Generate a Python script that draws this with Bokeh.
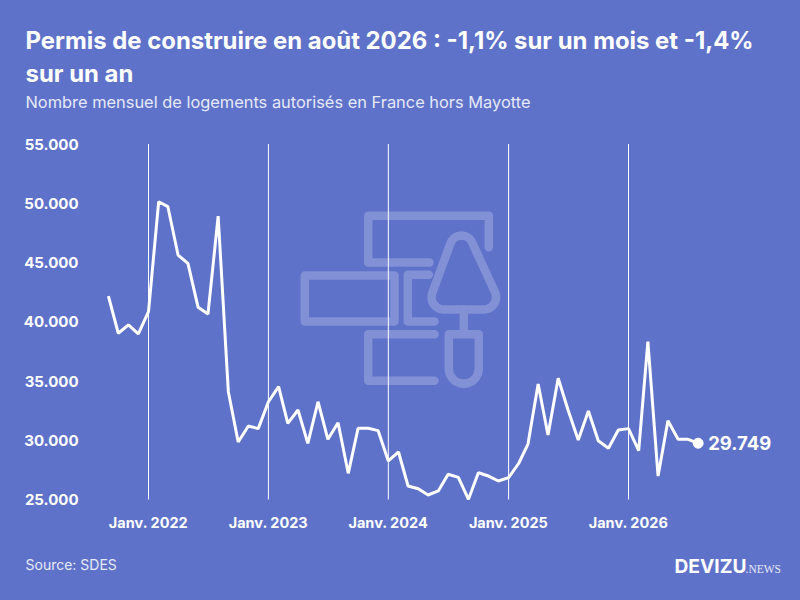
import math
import pandas as pd
from bokeh.embed import file_html
from bokeh.models import ColumnDataSource, FixedTicker, Label, Range1d
from bokeh.plotting import figure
from bokeh.resources import INLINE

months = pd.date_range("2021-09-01", "2026-08-01", freq="MS")
permits = [
    42170, 39030, 39730, 38970,
    40850, 50130, 49710, 45630, 44930, 41220, 40650, 48920, 34100, 29850, 31200, 30980,
    33250, 34520, 31430, 32550, 29740, 33250, 30080, 31480, 27210, 31010, 31010, 30810,
    28250, 29010, 26140, 25910, 25380, 25720, 27130, 26870, 25020, 27260, 26980, 26560,
    26840, 28060, 29680, 34750, 30440, 35230, 32550, 30020, 32470, 29960, 29320, 30870,
    30980, 29120, 38320, 26980, 31650, 30080, 30080, 29749,
]
y_ticks = [25000, 30000, 35000, 40000, 45000, 50000, 55000]
y_tick_labels = ["25.000", "30.000", "35.000", "40.000", "45.000", "50.000", "55.000"]
x_ticks = ["2022-01-01", "2023-01-01", "2024-01-01", "2025-01-01", "2026-01-01"]
x_tick_labels = ["Janv. 2022", "Janv. 2023", "Janv. 2024", "Janv. 2025", "Janv. 2026"]

TITLE_1 = "Permis de construire en août 2026 : -1,1% sur un mois et -1,4%"
TITLE_2 = "sur un an"
SUBTITLE = "Nombre mensuel de logements autorisés en France hors Mayotte"
SOURCE = "Source: SDES"

BG = "#5f72c9"
ICON = "#8290d5"
FONT = "Inter"
W, H = 800, 600

# axis calibration: reference pixels <-> data
t0, t1 = pd.Timestamp(x_ticks[0]), pd.Timestamp(x_ticks[-1])
PX0, PX1 = 148.0, 628.0
PY_25K, PY_55K = 499.0, 143.5
def px_to_time(px):
    return t0 + (px - PX0) / (PX1 - PX0) * (t1 - t0)
def py_to_value(py):
    return 25000 + (PY_25K - py) / (PY_25K - PY_55K) * 30000

p = figure(
    width=W, height=H, output_backend="svg", toolbar_location=None,
    x_axis_type="datetime",
    x_range=Range1d(px_to_time(0), px_to_time(W)),
    y_range=Range1d(py_to_value(H), py_to_value(0)),
    min_border=0, background_fill_color=BG, border_fill_color=BG, outline_line_color=None,
)
p.grid.visible = False
p.extra_x_ranges["px"] = Range1d(0, W)
p.extra_y_ranges["px"] = Range1d(H, 0)

x_tick_dates = [pd.Timestamp(d) for d in x_ticks]
x_tick_ms = [d.timestamp() * 1000 for d in x_tick_dates]
p.xaxis.fixed_location = py_to_value(500)
p.xaxis.ticker = FixedTicker(ticks=x_tick_ms)
p.xaxis.major_label_overrides = dict(zip(x_tick_ms, x_tick_labels))
p.yaxis.fixed_location = px_to_time(86).timestamp() * 1000
p.yaxis.ticker = FixedTicker(ticks=y_ticks)
p.yaxis.major_label_overrides = dict(zip(y_ticks, y_tick_labels))
for ax, size, standoff in ((p.xaxis, "14.5px", 7), (p.yaxis, "15px", 2)):
    ax.axis_line_color = None
    ax.major_tick_line_color = None
    ax.minor_tick_line_color = None
    ax.major_label_text_color = "white"
    ax.major_label_text_font = FONT
    ax.major_label_text_font_style = "bold"
    ax.major_label_text_font_size = size
    ax.major_label_standoff = standoff

# watermark icon, in reference pixels
def arc(cx, cy, r, a0, a1, n=10):
    return [(cx + r * math.cos(math.radians(a0 + (a1 - a0) * i / n)),
             cy + r * math.sin(math.radians(a0 + (a1 - a0) * i / n))) for i in range(n + 1)]

trowel = (arc(461, 246.7, 11.7, -160.5, -19.5) + arc(483.3, 296.7, 12.3, -19.5, 90)
          + arc(443.3, 296.7, 12.3, 90, 199.5))
trowel.append(trowel[0])
handle = [(448.3, 333.7), (478.3, 333.7)] + arc(463.3, 368.3, 15, 0, 180) + [(448.3, 333.7)]
icon_paths = [
    [(488.3, 246.7), (488.3, 215.3), (367.7, 215.3), (367.7, 262), (429, 262)],
    [(304.3, 275), (394, 275), (394, 321), (304.3, 321), (304.3, 275)],
    [(428.3, 274.3), (407.3, 274.3), (407.3, 321), (434, 321)],
    [(434, 333.7), (367.7, 333.7), (367.7, 380.3), (434, 380.3)],
    trowel,
    [(463.3, 309), (463.3, 333.7)],
    handle,
]
p.multi_line(
    [[a for a, _ in path] for path in icon_paths],
    [[b for _, b in path] for path in icon_paths],
    x_range_name="px", y_range_name="px", line_color=ICON, line_width=8.5,
    line_cap="round", line_join="round",
)

# year lines
p.segment(x_tick_dates, [y_ticks[-1]] * len(x_ticks), x_tick_dates, [y_ticks[0]] * len(x_ticks),
          line_color="white", line_width=1)

source = ColumnDataSource(dict(month=months, permits=permits))
p.line("month", "permits", source=source, line_color="white", line_width=3, line_join="bevel")
p.scatter([months[-1]], [permits[-1]], size=10, color="white")
p.add_layout(Label(
    x=months[-1], y=permits[-1], text=f"{permits[-1]:,}".replace(",", "."),
    x_offset=10, text_baseline="middle", text_color="white", text_font=FONT,
    text_font_style="bold", text_font_size="18.5px",
))

def text(px, py, s, size, style="normal", color="white", align="left", font=FONT):
    p.add_layout(Label(
        x=px, y=py, x_range_name="px", y_range_name="px", text=s,
        text_font_size=size, text_font_style=style, text_color=color, text_font=font,
        text_align=align, text_baseline="alphabetic",
    ))

text(25, 39.5, TITLE_1, "23.9px", "bold")
text(25, 72.5, TITLE_2, "23.9px", "bold")
text(25, 101.5, SUBTITLE, "16.4px", color="#e6e9f7")
text(25, 564, SOURCE, "14px", color="#e6e9f7")
text(674, 565, "DEVIZU", "19.2px", "bold")
text(745, 568.5, ".NEWS", "11.5px", color="#e6e9f7", font="Liberation Sans Narrow")

html = file_html(p, INLINE)
html = html.replace("</head>", f"<style>html,body{{background:{BG};}}</style></head>", 1)
open("out.html", "w").write(html)
